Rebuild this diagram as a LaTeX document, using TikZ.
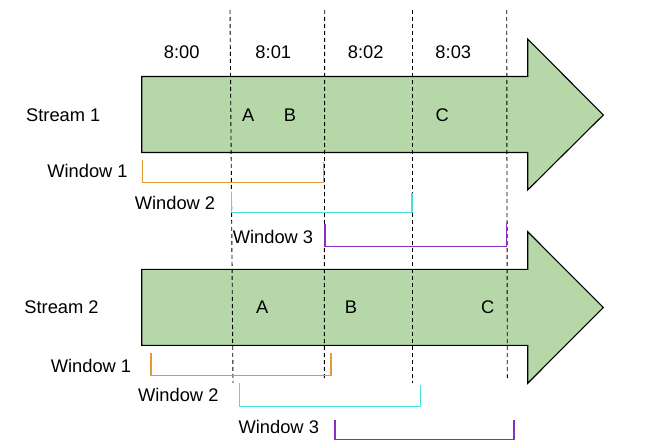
\documentclass[tikz,border=0pt]{standalone}
\usepackage{fontspec}
\setmainfont{Liberation Sans}
\begin{document}
\begin{tikzpicture}[x=1pt,y=-1pt,
  lbl/.style={font=\fontsize{18.3}{21}\selectfont, inner sep=0pt, anchor=center},
  streamarrow/.style={draw=black, line width=1.1pt, fill=arrowgreen},
  guide/.style={draw=black, line width=0.9pt, dash pattern=on 4pt off 3pt},
  win/.style={line width=1.2pt}]
\definecolor{arrowgreen}{HTML}{B6D7A8}
\definecolor{winorange}{HTML}{E39A32}
\definecolor{wincyan}{HTML}{45DEDE}
\definecolor{winpurple}{HTML}{8A2DC8}
\useasboundingbox (0,0) rectangle (645,441);
% arrows
\draw[streamarrow] (141.7,76.5) -- (527.7,76.5) -- (527.7,39) -- (603.3,115) -- (527.7,190) -- (527.7,152.5) -- (141.7,152.5) -- cycle;
\draw[streamarrow] (141.7,269.3) -- (527.7,269.3) -- (527.7,231.7) -- (603.3,307.5) -- (527.7,383.3) -- (527.7,345.3) -- (141.7,345.3) -- cycle;
% dashed guides
\coordinate (g1t) at (230,10);   \coordinate (g1b) at (233,383);
\coordinate (g2t) at (324.7,10); \coordinate (g2b) at (324.3,379);
\coordinate (g3t) at (412.5,10); \coordinate (g3b) at (412.5,383);
\coordinate (g4t) at (506.7,10); \coordinate (g4b) at (507.3,379);
\draw[guide] (g1t) -- (g1b);
\draw[guide] (g2t) -- (g2b);
\draw[guide] (g3t) -- (g3b);
\draw[guide] (g4t) -- (g4b);
% time labels
\node[lbl] (t0) at (181.7,52) {8:00};
\node[lbl] (t1) at (273.3,52) {8:01};
\node[lbl] (t2) at (365.7,52) {8:02};
\node[lbl] (t3) at (453.3,52) {8:03};
% stream labels
\node[lbl] (s1) at (63.3,115) {Stream 1};
\node[lbl] (s2) at (61.5,307.5) {Stream 2};
% events
\node[lbl] (a1) at (248.3,115) {A};
\node[lbl] (b1) at (290,115) {B};
\node[lbl] (c1) at (442.3,115) {C};
\node[lbl] (a2) at (262.3,307.5) {A};
\node[lbl] (b2) at (351,307.5) {B};
\node[lbl] (c2) at (487.7,307.5) {C};
% windows stream 1
\node[lbl] (w11) at (87.5,171) {Window 1};
\node[lbl] (w12) at (175,203.3) {Window 2};
\node[lbl] (w13) at (273,236.7) {Window 3};
\draw[win, draw=winorange] (142.7,160) -- (142.7,182.3) -- (323.3,182.3) -- (323.3,162);
\draw[win, draw=wincyan] (231.7,191.7) -- (231.7,212.3) -- (412,212.3) -- (412,192.7);
\draw[win, draw=winpurple] (325,223.5) -- (325,246.7) -- (506.7,246.7) -- (506.7,223);
% windows stream 2
\node[lbl] (w21) at (91,365.7) {Window 1};
\node[lbl] (w22) at (178.3,395) {Window 2};
\node[lbl] (w23) at (278.8,426.7) {Window 3};
\draw[win, draw=winorange] (151,353.3) -- (151,375.3) -- (331,375.3) -- (331,353.3);
\draw[win, draw=wincyan] (239.3,383.3) -- (239.3,406.7) -- (420.7,406.7) -- (420.7,385);
\draw[win, draw=winpurple] (335,420) -- (335,439.5) -- (514,439.5) -- (514,420);
\end{tikzpicture}
\end{document}
